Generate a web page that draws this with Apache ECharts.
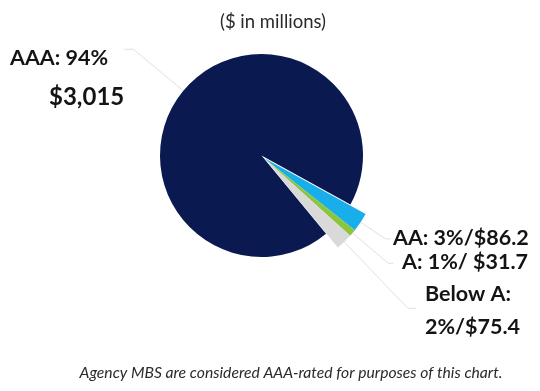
<!DOCTYPE html>
<html>
<head>
<meta charset="utf-8">
<script src="https://cdn.jsdelivr.net/npm/echarts@6/dist/echarts.min.js"></script>
<style>
  html, body { margin: 0; padding: 0; background: #fff; }
  #chart { width: 540px; height: 391px; }
</style>
</head>
<body>
<div id="chart"></div>
<script>
// Portfolio by credit rating ($ in millions)
const ratings = ['AAA', 'AA', 'A', 'Below A'];
const amounts = [3015, 86.2, 31.7, 75.4];
const amountLabels = ['$3,015', '$86.2', '$31.7', '$75.4'];
const colors = ['#0a1950', '#17aeea', '#8cc63f', '#d9d9d9'];

const total = amounts.reduce((s, v) => s + v, 0);
const pct = amounts.map(v => Math.round(v / total * 100));

const FONT = 'Lato, "Open Sans", sans-serif';
const TEXT = '#141414';
const LEADER = { color: '#e0e0e0', width: 1 };

// label boxes (left x, y) and leader-line lengths for each rating
const labelPos = [
  { x: 10, y: 39, v: 'top', len: 65, len2: 9 },
  { x: 393, y: 238, v: 'middle', len: 30, len2: 5 },
  { x: 402, y: 262, v: 'middle', len: 47, len2: 5 },
  { x: 425, y: 277.5, v: 'top', len: 92, len2: 8 }
];

function labelText(i) {
  const r = ratings[i], p = pct[i] + '%', a = amountLabels[i];
  if (i === 0) return '{a|' + r + ': ' + p + '}\n{b|' + a + '}';
  if (i === 1) return r + ': ' + p + '/' + a;
  if (i === 2) return r + ': ' + p + '/ ' + a;
  return r + ':\n' + p + '/' + a;
}

const hidden = { color: 'rgba(0,0,0,0)' };

function sliceData(showIdx) {
  return ratings.map((r, i) => {
    const on = showIdx(i);
    return {
      name: r,
      value: amounts[i],
      itemStyle: on ? { color: colors[i] } : hidden,
      label: { show: on },
      labelLine: { show: on, length: labelPos[i].len, length2: labelPos[i].len2 }
    };
  });
}

// keep the radial leader lines, move only the text boxes
const labelLayout = params => {
  const p = labelPos[params.dataIndex];
  const out = { x: p.x, y: p.y, align: 'left', verticalAlign: p.v };
  if (params.labelLinePoints) out.labelLinePoints = params.labelLinePoints;
  return out;
};

const chart = echarts.init(document.getElementById('chart'), null, { renderer: 'canvas' });
chart.setOption({
  animation: false,
  backgroundColor: '#fff',
  title: [
    {
      text: '($ in millions)',
      left: 268, top: 8, textAlign: 'center',
      textStyle: { fontFamily: FONT, fontSize: 18.5, fontWeight: 'normal', color: '#2a2a2a' }
    },
    {
      text: 'Agency MBS are considered AAA-rated for purposes of this chart.',
      left: 286, top: 360, textAlign: 'center',
      textStyle: { fontFamily: FONT, fontSize: 15.7, fontStyle: 'italic', fontWeight: 'normal', color: '#2a2a2a' }
    }
  ],
  series: [
    {
      // AAA slice at the pie centre
      type: 'pie',
      silent: true,
      center: [261.5, 155.5],
      radius: 101.5,
      startAngle: 309.5,
      clockwise: true,
      avoidLabelOverlap: false,
      data: sliceData(i => i === 0),
      label: {
        position: 'outside',
        formatter: p => labelText(p.dataIndex),
        fontFamily: FONT,
        color: TEXT,
        rich: {
          a: { fontFamily: FONT, fontSize: 21.5, fontWeight: 'bold', color: TEXT, lineHeight: 39 },
          b: { fontFamily: FONT, fontSize: 24, fontWeight: 'bold', color: TEXT, lineHeight: 39, padding: [0, 0, 0, 39] }
        }
      },
      labelLine: { lineStyle: LEADER },
      labelLayout: labelLayout
    },
    {
      // smaller ratings, pulled out slightly and drawn larger
      type: 'pie',
      silent: true,
      center: [264, 158],
      radius: 116,
      startAngle: 309.5,
      clockwise: true,
      avoidLabelOverlap: false,
      data: sliceData(i => i !== 0),
      label: {
        position: 'outside',
        formatter: p => labelText(p.dataIndex),
        fontFamily: FONT,
        fontSize: 21.5,
        fontWeight: 'bold',
        color: TEXT,
        lineHeight: 33
      },
      labelLine: { lineStyle: LEADER },
      labelLayout: labelLayout
    }
  ]
});
</script>
</body>
</html>
